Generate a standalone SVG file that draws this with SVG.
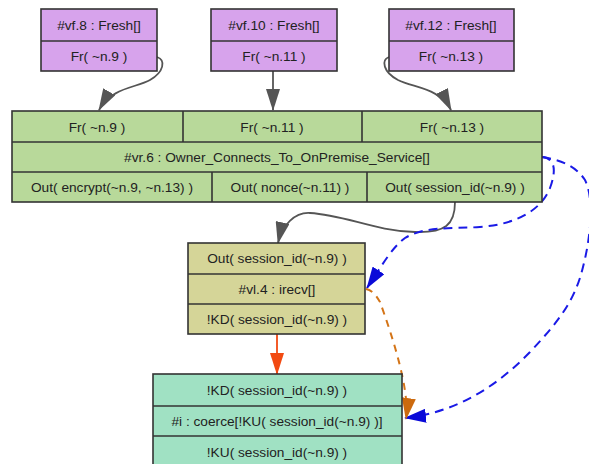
<svg xmlns="http://www.w3.org/2000/svg" width="589" height="464" viewBox="0 0 589 464">
<style>
.box{stroke:#333;stroke-width:1.6}
.fresh{fill:#d7a3ec}
.rule{fill:#b8d99a}
.irecv{fill:#d5d598}
.coerce{fill:#a0e1c3}
.ln{stroke:#333;stroke-width:1.6;fill:none}
text{font-family:"Liberation Sans",Arial,sans-serif;font-size:13.7px;fill:#222;text-anchor:middle;dominant-baseline:central}
.e{fill:none}
.gray{stroke:#555;stroke-width:1.8}
.blue{stroke:#1a1ae6;stroke-width:2;stroke-dasharray:9,6}
.orange{stroke:#d47417;stroke-width:2;stroke-dasharray:7,6}
.red{stroke:#f24a12;stroke-width:1.8}
</style>
<defs>
<marker id="ag" markerUnits="userSpaceOnUse" markerWidth="22" markerHeight="14" viewBox="0 0 22 14" refX="21" refY="7" orient="auto"><path d="M0,0L22,7L0,14z" fill="#555"/></marker>
<marker id="ab" markerUnits="userSpaceOnUse" markerWidth="22" markerHeight="14" viewBox="0 0 22 14" refX="21" refY="7" orient="auto"><path d="M0,0L22,7L0,14z" fill="#0a0ad8"/></marker>
<marker id="ao" markerUnits="userSpaceOnUse" markerWidth="22" markerHeight="14" viewBox="0 0 22 14" refX="21" refY="7" orient="auto"><path d="M0,0L22,7L0,14z" fill="#cc6a0e"/></marker>
<marker id="ar" markerUnits="userSpaceOnUse" markerWidth="22" markerHeight="14" viewBox="0 0 22 14" refX="21" refY="7" orient="auto"><path d="M0,0L22,7L0,14z" fill="#f24a12"/></marker>
</defs>

<g id="edges">
<path class="e gray" d="M157,57 C166,60 164,72 150,80 C136,88 112,87 99,110" marker-end="url(#ag)"/>
<path class="e gray" d="M273,71 L273,110" marker-end="url(#ag)"/>
<path class="e gray" d="M389,57 C381,60 383,72 398,80 C414,88 440,88 451,110" marker-end="url(#ag)"/>
<path class="e gray" d="M455,202 C455,225 445,233 415,232 C375,231 345,215 310,213 C295,212 282,225 278,243" marker-end="url(#ag)"/>
<path class="e blue" d="M542,157 C556,158 556,172 550,188 C542,208 520,224 480,227 C450,229 425,226 405,238 C392,248 384,262 367,288" marker-end="url(#ab)"/>
<path class="e blue" d="M542,157 C560,160 575,165 585,180 C595,200 590,240 583,267 C575,300 560,320 530,352 C500,383 460,412 405,418" marker-end="url(#ab)"/>
<path class="e orange" d="M366,289 C372,290 376,295 380,302 C392,335 410,390 406,419" marker-end="url(#ao)"/>
<path class="e red" d="M277,334 L277,374" marker-end="url(#ar)"/>
</g>

<g id="vf8">
<rect class="box fresh" x="41" y="9" width="116" height="62"/>
<line class="ln" x1="41" y1="41" x2="157" y2="41"/>
<text x="99" y="25">#vf.8 : Fresh[]</text>
<text x="99" y="56">Fr( ~n.9 )</text>
</g>
<g id="vf10">
<rect class="box fresh" x="211" y="9" width="126" height="62"/>
<line class="ln" x1="211" y1="41" x2="337" y2="41"/>
<text x="274" y="25">#vf.10 : Fresh[]</text>
<text x="274" y="56">Fr( ~n.11 )</text>
</g>
<g id="vf12">
<rect class="box fresh" x="389" y="9" width="125" height="62"/>
<line class="ln" x1="389" y1="41" x2="514" y2="41"/>
<text x="451" y="25">#vf.12 : Fresh[]</text>
<text x="451" y="56">Fr( ~n.13 )</text>
</g>

<g id="vr6">
<rect class="box rule" x="12" y="111" width="530" height="91"/>
<line class="ln" x1="12" y1="142" x2="542" y2="142"/>
<line class="ln" x1="12" y1="172" x2="542" y2="172"/>
<line class="ln" x1="183" y1="111" x2="183" y2="142"/>
<line class="ln" x1="362" y1="111" x2="362" y2="142"/>
<line class="ln" x1="212" y1="172" x2="212" y2="202"/>
<line class="ln" x1="367" y1="172" x2="367" y2="202"/>
<text x="97" y="127">Fr( ~n.9 )</text>
<text x="272" y="127">Fr( ~n.11 )</text>
<text x="452" y="127">Fr( ~n.13 )</text>
<text x="277" y="157">#vr.6 : Owner_Connects_To_OnPremise_Service[]</text>
<text x="112" y="187">Out( encrypt(~n.9, ~n.13) )</text>
<text x="290" y="187">Out( nonce(~n.11) )</text>
<text x="455" y="187">Out( session_id(~n.9) )</text>
</g>

<g id="vl4">
<rect class="box irecv" x="188" y="243" width="177" height="91"/>
<line class="ln" x1="188" y1="274" x2="365" y2="274"/>
<line class="ln" x1="188" y1="304" x2="365" y2="304"/>
<text x="277" y="258">Out( session_id(~n.9) )</text>
<text x="277" y="289">#vl.4 : irecv[]</text>
<text x="277" y="319">!KD( session_id(~n.9) )</text>
</g>

<g id="coerce">
<rect class="box coerce" x="153" y="374" width="249" height="100"/>
<line class="ln" x1="153" y1="406" x2="402" y2="406"/>
<line class="ln" x1="153" y1="436" x2="402" y2="436"/>
<text x="277" y="390">!KD( session_id(~n.9) )</text>
<text x="277" y="421">#i : coerce[!KU( session_id(~n.9) )]</text>
<text x="277" y="452">!KU( session_id(~n.9) )</text>
</g>
</svg>
